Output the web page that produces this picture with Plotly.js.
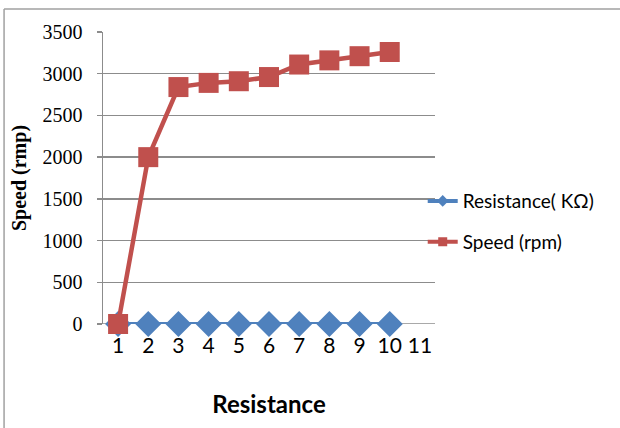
<!DOCTYPE html>
<html>
<head>
<meta charset="utf-8">
<script src="https://cdn.plot.ly/plotly-3.0.1.min.js"></script>
<style>
html,body{margin:0;padding:0;background:#fff;}
#chart{width:620px;height:428px;}
</style>
</head>
<body>
<div id="chart"></div>
<script>
const categories = [1, 2, 3, 4, 5, 6, 7, 8, 9, 10];
const xTickLabels = ['1','2','3','4','5','6','7','8','9','10','11'];
const xTickVals = [1,2,3,4,5,6,7,8,9,10,11];
const resistanceK = [0, 0, 0, 0, 0, 0, 0, 0, 0, 0];
const speedRpm = [0, 2000, 2840, 2890, 2910, 2960, 3110, 3160, 3210, 3260];
const yTicks = [0, 500, 1000, 1500, 2000, 2500, 3000, 3500];
const seriesNames = ['Resistance( KΩ)', 'Speed (rpm)'];

const sans = 'Lato, "Liberation Sans", sans-serif';
const serif = '"Liberation Serif", "Times New Roman", serif';
const blue = '#4F81BD', red = '#C0504D';

const traces = [
  {
    x: categories, y: resistanceK, name: seriesNames[0], mode: 'lines+markers',
    showlegend: false, cliponaxis: false,
    line: {color: blue, width: 4},
    marker: {symbol: 'diamond', size: 20, color: blue}
  },
  {
    x: categories, y: speedRpm, name: seriesNames[1], mode: 'lines+markers',
    showlegend: false, cliponaxis: false,
    line: {color: red, width: 4.5},
    marker: {symbol: 'square', size: 20, color: red}
  },
  {
    x: [null], y: [null], name: seriesNames[0], mode: 'lines+markers', legendgroup: 'a',
    line: {color: blue, width: 4}, marker: {symbol: 'diamond', size: 9, color: blue}
  },
  {
    x: [null], y: [null], name: seriesNames[1], mode: 'lines+markers', legendgroup: 'b',
    line: {color: red, width: 4}, marker: {symbol: 'square', size: 9, color: red}
  }
];

const layout = {
  width: 620, height: 428,
  margin: {l: 103, r: 185, t: 32, b: 104},
  paper_bgcolor: '#fff', plot_bgcolor: '#fff',
  showlegend: true,
  legend: {
    x: 0.963, y: 0.486, xanchor: 'left', yanchor: 'top',
    font: {family: sans, size: 19, color: '#000'},
    traceorder: 'grouped', tracegroupgap: 13,
    bgcolor: 'rgba(0,0,0,0)'
  },
  xaxis: {
    range: [0.5, 11.5], tickvals: xTickVals, ticktext: xTickLabels,
    showgrid: false, zeroline: false,
    showline: false, ticks: '',
    ticklabelstandoff: 7,
    tickfont: {family: sans, size: 21, color: '#000'},
    title: {text: '<b>Resistance</b>', font: {family: sans, size: 24, color: '#000'}, standoff: 40}
  },
  yaxis: {
    range: [0, 3500], tickvals: yTicks,
    showgrid: true, gridcolor: '#8c8c8c', gridwidth: 1.5,
    zeroline: false, showline: true, linecolor: '#8c8c8c', linewidth: 1.5,
    ticks: 'outside', ticklen: 5, tickcolor: '#8c8c8c', tickwidth: 1.5,
    ticklabelstandoff: 10,
    tickfont: {family: serif, size: 20, color: '#000'},
    title: {text: '<b>Speed (rmp)</b>', font: {family: serif, size: 20, color: '#000'}, standoff: 10}
  },
  shapes: [
    {type: 'line', xref: 'paper', yref: 'y', x0: 0, x1: 1, y0: 0, y1: 0,
     line: {color: '#8c8c8c', width: 1.5}, layer: 'below'},
    {type: 'line', xref: 'paper', yref: 'paper', x0: -0.298, x1: -0.298, y0: -0.5, y1: 1.0788,
     line: {color: '#a0a0a0', width: 1.5}},
    {type: 'line', xref: 'paper', yref: 'paper', x0: -0.298, x1: 1.7, y0: 1.0788, y1: 1.0788,
     line: {color: '#a0a0a0', width: 1.5}}
  ]
};

Plotly.newPlot('chart', traces, layout, {displayModeBar: false, staticPlot: true});
</script>
</body>
</html>
